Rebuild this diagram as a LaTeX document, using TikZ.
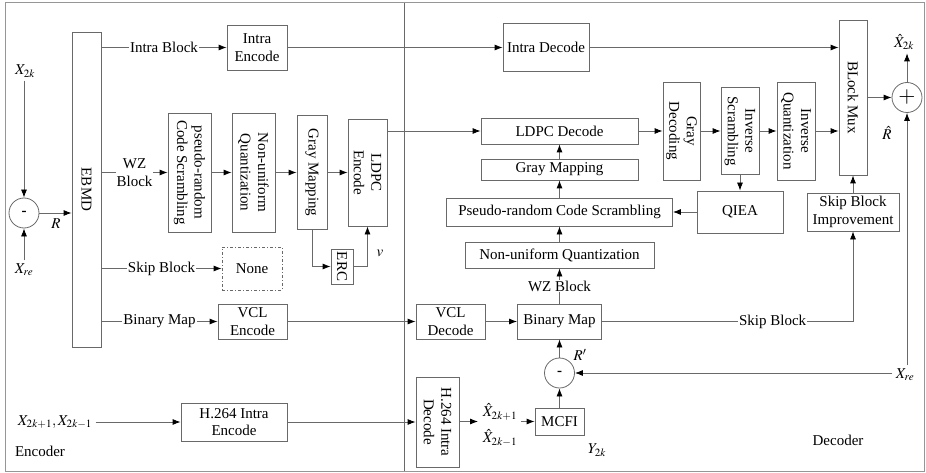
\documentclass[tikz,border=0pt]{standalone}
\usepackage{mathptmx}
\usepackage{fontspec}
\setmainfont{Liberation Serif}
\usetikzlibrary{arrows.meta,calc}
\definecolor{lc}{RGB}{105,105,105}
\definecolor{fc}{RGB}{150,150,150}
\tikzset{
 every node/.style={font=\fontsize{15}{17.5}\selectfont, text=black},
 bx/.style={draw=lc, line width=0.8pt, inner sep=0pt, align=center},
 rt/.style={rotate=-90, align=center, inner sep=0pt},
 arr/.style={draw=lc, line width=0.8pt, -{Latex[length=8pt,width=6pt,color=black]}},
 ln/.style={draw=lc, line width=0.8pt},
 lbl/.style={fill=white, inner sep=1pt},
 sumc/.style={circle, draw=lc, line width=0.8pt, minimum size=30pt, inner sep=0pt},
}
\begin{document}
\begin{tikzpicture}[x=1pt,y=-1pt]
\useasboundingbox (0,0) rectangle (926,473);
% frame
\draw[fc, line width=1pt] (5,3) rectangle (924,471);
\draw[lc, line width=0.8pt] (404,3) coordinate (dtop) -- (404,471) coordinate (dbot);

% ---------------- Encoder ----------------
\node[bx, minimum width=29pt, minimum height=315pt] (ebmd) at (86.5,189.5) {};
\node[rt] at (ebmd) {EBMD};
\node[sumc] (m1) at (24,213) {\textbf{-}};
\node (x2k) at (25,71) {$X_{2k}$};
\node (xre1) at (24,270) {$X_{re}$};
\node at (56,224) {$R$};
\draw[arr] (x2k.south -| m1) -- (m1.north);
\draw[arr] (xre1.north -| m1) -- (m1.south);
\draw[arr] (m1.east) -- (m1 -| ebmd.west);

\node[bx, minimum width=60pt, minimum height=45pt] (ienc) at (257,47.5) {Intra\\Encode};
\node[bx, minimum width=43pt, minimum height=119pt] (pse) at (189.5,172.5) {};
\node[rt] at (pse) {pseudo-random\\Code Scrambling};
\node[bx, minimum width=43pt, minimum height=119pt] (nue) at (253.5,172.5) {};
\node[rt] at (nue) {Non-uniform\\Quantization};
\node[bx, minimum width=30pt, minimum height=114pt] (gme) at (312,172.5) {};
\node[rt] at (gme) {Gray Mapping};
\node[bx, minimum width=39pt, minimum height=107pt] (lde) at (367.5,172.5) {};
\node[rt] at (lde) {LDPC\\Encode};
\node[bx, minimum width=22pt, minimum height=35pt] (erc) at (342,266.5) {};
\node[rt] at (erc) {ERC};
\node at (380,253) {$v$};
\node[bx, dash pattern=on 3pt off 2pt on 1pt off 2pt, minimum width=60pt, minimum height=43pt] (none) at (252,268.5) {None};
\node[bx, minimum width=69pt, minimum height=35pt] (vcle) at (252.5,321.5) {VCL\\Encode};
\node[bx, minimum width=106pt, minimum height=38pt] (h264e) at (234,422) {H.264 Intra\\Encode};
\node (xin) at (55,422) {$X_{2k+1},X_{2k-1}$};
\node at (40,451) {Encoder};

\draw[arr] (ebmd.east |- ienc) -- node[lbl]{Intra Block} (ienc.west);
\draw[arr] (ebmd.east |- pse) -- node[lbl, align=center]{WZ\\Block} (pse.west);
\draw[arr] (ebmd.east |- none) -- node[lbl]{Skip Block} (none.west);
\draw[arr] (ebmd.east |- vcle) -- node[lbl]{Binary Map} (vcle.west);
\draw[arr] (pse) -- (nue);
\draw[arr] (nue) -- (gme);
\draw[arr] (gme) -- (lde);
\draw[arr] (gme.south) |- (erc.west);
\draw[arr] (erc.east) -| (lde.south);
\draw[arr] (xin.east) -- (h264e.west);

% ---------------- Decoder ----------------
\node[bx, minimum width=86pt, minimum height=48pt] (idec) at (546,47.5) {Intra Decode};
\node[bx, minimum width=157pt, minimum height=26pt] (ldd) at (559.5,131) {LDPC Decode};
\node[bx, minimum width=157pt, minimum height=21pt] (gmd) at (559.5,169.5) {Gray Mapping};
\node[bx, minimum width=226pt, minimum height=28pt] (psd) at (559.5,212) {Pseudo-random Code Scrambling};
\node[bx, minimum width=189pt, minimum height=26pt] (nud) at (559.5,255) {Non-uniform Quantization};
\node[bx, minimum width=84pt, minimum height=35pt] (bmap) at (559.5,321.5) {Binary Map};
\node[bx, minimum width=69pt, minimum height=35pt] (vcld) at (450.5,321.5) {VCL\\Decode};
\node[sumc] (m2) at (559.5,373) {\textbf{-}};
\node at (580,355) {$R'$};
\node[bx, minimum width=49pt, minimum height=27pt] (mcfi) at (559.5,421.5) {MCFI};
\node[bx, minimum width=43pt, minimum height=90pt] (h264d) at (437.5,422) {};
\node[rt] at (h264d) {H.264 Intra\\Decode};
\node at (500,412) {$\hat{X}_{2k+1}$};
\node at (500,438) {$\hat{X}_{2k-1}$};
\coordinate (xh1) at (478,421.5);
\coordinate (xh2) at (521,421.5);
\node at (597,450) {$Y_{2k}$};
\node at (838,440) {Decoder};

\node[bx, minimum width=37pt, minimum height=98pt] (grd) at (681.5,131) {};
\node[rt] at (grd) {Gray\\Decoding};
\node[bx, minimum width=38pt, minimum height=87pt] (ins) at (740,131) {};
\node[rt] at (ins) {Inverse\\Scrambling};
\node[bx, minimum width=38pt, minimum height=98pt] (inq) at (796,131) {};
\node[rt] at (inq) {Inverse\\Quantization};
\node[bx, minimum width=86pt, minimum height=42pt] (qiea) at (740,212) {QIEA};
\node[bx, minimum width=28pt, minimum height=155pt] (bmux) at (853,97.5) {};
\node[rt] at (bmux) {BLock Mux};
\node[bx, minimum width=92pt, minimum height=38pt] (sbi) at (853,212) {Skip Block\\Improvement};
\node[sumc] (pl) at (907,97.5) {\fontsize{22}{22}\selectfont$+$};
\node (xhat) at (904,42) {$\hat{X}_{2k}$};
\node at (887,133) {$\hat{R}$};
\node (xre2) at (905,375) {$X_{re}$};

% decoder connectors
\draw[arr] (ienc.east) -- (idec.west);
\draw[arr] (idec.east) -- (idec -| bmux.west);
\draw[arr] (ldd -| lde.east) -- (ldd.west);
\draw[arr] (ldd.east) -- (ldd -| grd.west);
\draw[arr] (grd) -- (ins);
\draw[arr] (ins) -- (inq);
\draw[arr] (inq.east) -- (inq -| bmux.west);
\draw[arr] (ins.south) -- (ins.south |- qiea.north);
\draw[arr] (qiea.west) -- (psd.east);
\draw[arr] (gmd) -- (ldd);
\draw[arr] (psd) -- (gmd);
\draw[arr] (nud) -- (psd);
\draw[arr] (bmap) -- node[lbl]{WZ Block} (nud);
\draw[arr] (vcle.east) -- (vcld.west);
\draw[arr] (vcld) -- (bmap);
\draw[arr] (bmap.east) -- node[lbl, pos=0.68]{Skip Block} (bmap.east -| sbi.south) -- (sbi.south);
\draw[arr] (sbi) -- (bmux);
\draw[arr] (bmux.east |- pl) -- (pl.west);
\draw[arr] (pl.north) -- (pl.north |- xhat.south);
\draw[arr] (pl |- xre2.north) -- (pl.south);
\draw[arr] (xre2.west |- m2) -- (m2.east);
\draw[arr] (m2) -- (bmap);
\draw[arr] (mcfi) -- (m2);
\draw[arr] (h264e.east) -- (h264d.west);
\draw[arr] (h264d.east |- xh1) -- (xh1);
\draw[arr] (xh2) -- (mcfi.west);
\end{tikzpicture}
\end{document}
